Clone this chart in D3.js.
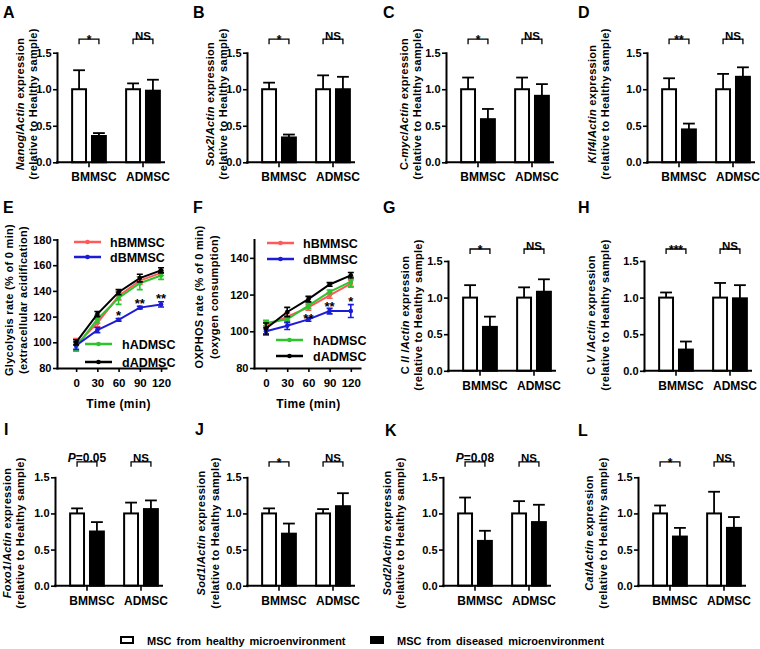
<!DOCTYPE html>
<html>
<head>
<meta charset="utf-8">
<script src="https://cdn.jsdelivr.net/npm/d3@7"></script>
<style>
  body { margin: 0; background: #fff; }
  svg { display: block; font-family: "Liberation Sans", Arial, sans-serif; font-weight: bold; }
</style>
</head>
<body>
<svg id="fig" width="760" height="649"></svg>
<script>
const groups = ['BMMSC', 'ADMSC'];
const conditions = ['healthy', 'diseased'];
const barTicks = [0, 0.5, 1.0, 1.5];
const relLine = '(relative to Healthy sample)';

// order: BMMSC healthy, BMMSC diseased, ADMSC healthy, ADMSC diseased
const nanogMean = [1.0, 0.36, 1.0, 0.98];
const nanogErr = [0.26, 0.04, 0.08, 0.15];
const sox2Mean = [1.0, 0.34, 1.0, 1.0];
const sox2Err = [0.09, 0.04, 0.19, 0.17];
const cmycMean = [1.0, 0.59, 1.0, 0.91];
const cmycErr = [0.16, 0.14, 0.16, 0.16];
const klf4Mean = [1.0, 0.45, 1.0, 1.17];
const klf4Err = [0.15, 0.08, 0.21, 0.13];
const c2Mean = [1.0, 0.6, 1.0, 1.08];
const c2Err = [0.17, 0.14, 0.14, 0.17];
const c5Mean = [1.0, 0.29, 1.0, 0.99];
const c5Err = [0.07, 0.11, 0.2, 0.18];
const foxo1Mean = [1.0, 0.75, 1.0, 1.06];
const foxo1Err = [0.07, 0.13, 0.15, 0.12];
const sod1Mean = [1.0, 0.72, 1.0, 1.1];
const sod1Err = [0.07, 0.14, 0.06, 0.18];
const sod2Mean = [1.0, 0.62, 1.0, 0.88];
const sod2Err = [0.22, 0.14, 0.17, 0.24];
const catMean = [1.0, 0.68, 1.0, 0.8];
const catErr = [0.11, 0.12, 0.3, 0.15];

// significance labels: [BMMSC, ADMSC]
const nanogSig = ['*', 'NS'];
const sox2Sig = ['*', 'NS'];
const cmycSig = ['*', 'NS'];
const klf4Sig = ['**', 'NS'];
const c2Sig = ['*', 'NS'];
const c5Sig = ['***', 'NS'];
const foxo1Sig = ['<i>P</i>=0.05', 'NS'];
const sod1Sig = ['*', 'NS'];
const sod2Sig = ['<i>P</i>=0.08', 'NS'];
const catSig = ['*', 'NS'];

// time course, series order hBMMSC, dBMMSC, hADMSC, dADMSC
const timePoints = [0, 30, 60, 90, 120];
const seriesNames = ['hBMMSC', 'dBMMSC', 'hADMSC', 'dADMSC'];
const seriesColors = ['#ff5a5a', '#1c1cd6', '#2ec42e', '#000000'];
const glycoMean = [
  [98, 115, 136, 148, 154],
  [97.5, 109.5, 117.5, 127, 129.5],
  [96.5, 118, 134.5, 146, 152],
  [100, 122, 139, 150, 156]
];
const glycoErr = [
  [5, 3, 3, 3, 2],
  [3, 2, 1, 1, 2],
  [3, 3, 5, 5, 3],
  [2, 2, 2, 3, 2]
];
const glycoTicks = [80, 100, 120, 140, 160, 180];
const glycoStars = [[60, 117, '*'], [90, 126.5, '**'], [120, 130.6, '**']];

const oxMean = [
  [103, 108, 113, 119.5, 126],
  [100, 103, 106.5, 111, 111],
  [104.5, 106.5, 114, 121.5, 127],
  [101.5, 110.5, 117.5, 125.5, 130.5]
];
const oxErr = [
  [2, 2, 1.5, 1.5, 2],
  [2, 2, 1, 1.5, 3.5],
  [1.5, 2, 1.5, 1, 2.5],
  [3, 2.5, 1.5, 1, 1.5]
];
const oxTicks = [80, 100, 120, 140];
const oxStars = [[60, 104.5, '**'], [90, 111, '**'], [120, 114, '*']];

const legendLabels = ['MSC from healthy microenvironment', 'MSC from diseased microenvironment'];

// ---------- layout ----------
const rows = [
  { top: 52.7, base: 162.3, sig: 13.5, yc: 104 },
  { top: 261, base: 370.8, sig: 12, yc: 315 },
  { top: 477.3, base: 585.7, sig: 15.5, yc: 533 }
];

const barPanels = [
  { id: 'A', lx: 3, ly: 18, ax: 57, row: 0, tx: [-36.5, -23.5], title: '<i>Nanog</i>/<i>Actin</i> expression', mean: nanogMean, err: nanogErr, sig: nanogSig },
  { id: 'B', lx: 193, ly: 18, ax: 247, row: 0, tx: [-36.5, -23.5], title: '<i>Sox2</i>/<i>Actin</i> expression', mean: sox2Mean, err: sox2Err, sig: sox2Sig },
  { id: 'C', lx: 383, ly: 18, ax: 446, row: 0, tx: [-41.5, -28.5], title: 'C-<i>myc</i>/<i>Actin</i> expression', mean: cmycMean, err: cmycErr, sig: cmycSig },
  { id: 'D', lx: 578, ly: 18, ax: 647, row: 0, tx: [-54, -41], title: '<i>Klf4</i>/<i>Actin</i> expression', mean: klf4Mean, err: klf4Err, sig: klf4Sig },
  { id: 'G', lx: 383, ly: 213, ax: 448, row: 1, tx: [-42, -29], title: 'C <i>II</i> /<i>Actin</i> expression', mean: c2Mean, err: c2Err, sig: c2Sig },
  { id: 'H', lx: 578, ly: 213, ax: 644, row: 1, tx: [-52, -38.5], title: 'C <i>V</i> /<i>Actin</i> expression', mean: c5Mean, err: c5Err, sig: c5Sig },
  { id: 'I', lx: 4, ly: 435, ax: 55, row: 2, tx: [-47.5, -34], title: '<i>Foxo1</i>/<i>Actin</i> expression', mean: foxo1Mean, err: foxo1Err, sig: foxo1Sig },
  { id: 'J', lx: 195, ly: 435, ax: 247, row: 2, tx: [-45, -31], title: '<i>Sod1</i>/<i>Actin</i> expression', mean: sod1Mean, err: sod1Err, sig: sod1Sig },
  { id: 'K', lx: 385, ly: 436, ax: 443, row: 2, tx: [-55.5, -42], title: '<i>Sod2</i>/<i>Actin</i> expression', mean: sod2Mean, err: sod2Err, sig: sod2Sig },
  { id: 'L', lx: 578, ly: 436, ax: 638, row: 2, tx: [-48, -34.5], title: '<i>Cat</i>/<i>Actin</i> expression', mean: catMean, err: catErr, sig: catSig }
];

const linePanels = [
  {
    id: 'E', lx: 3, ly: 213, ax: 57, len: 109, xDomain: [-27, 127], yDomain: [80, 180], ticks: glycoTicks,
    tx: [-47.5, -33], yc: 300, titles: ['Glycolysis rate (% of 0 min)', '(extracellular acidification)'],
    mean: glycoMean, err: glycoErr, stars: glycoStars,
    legend: [[17, 53, 242], [17, 53, 257], [28, 65, 344], [28, 65, 362]]
  },
  {
    id: 'F', lx: 193, ly: 213, ax: 254, len: 106, xDomain: [-17, 133], yDomain: [80, 150], ticks: oxTicks,
    tx: [-54.5, -39.5], yc: 297, titles: ['OXPHOS rate (% of 0 min)', '(oxygen consumption)'],
    mean: oxMean, err: oxErr, stars: oxStars,
    legend: [[13, 49, 243], [13, 49, 259], [22, 59, 340], [22, 59, 356]]
  }
];

const svg = d3.select('#fig');

// text with <i>..</i> segments
function richText(sel, str) {
  str.split(/(<i>.*?<\/i>)/).filter(s => s).forEach(s => {
    const it = s.startsWith('<i>');
    sel.append('tspan')
      .style('font-style', it ? 'italic' : null)
      .text(it ? s.slice(3, -4) : s);
  });
}

// rotated two-line axis title; x is the centre of each text column
function yTitle(lines, xs, yc) {
  xs.forEach((x, i) => {
    const t = svg.append('text')
      .attr('transform', `translate(${x + 3.3},${yc}) rotate(-90)`)
      .attr('text-anchor', 'middle')
      .style('font-size', '11px')
      .style('letter-spacing', '0.3px');
    richText(t, lines[i]);
  });
}

function styleAxis(g) {
  g.attr('font-size', null).attr('font-family', null);
  g.select('.domain').attr('stroke-width', 2).attr('stroke-linecap', 'square');
  g.selectAll('.tick line').attr('stroke-width', 1.6);
  g.selectAll('.tick text').style('font-size', '11px').attr('fill', '#000');
}

function panelLetter(p) {
  svg.append('text').attr('x', p.lx).attr('y', p.ly).style('font-size', '16px').text(p.id);
}

function barPanel(p) {
  const r = rows[p.row];
  const y = d3.scaleLinear().domain([0, 1.5]).range([r.base, r.top]);
  const x0 = d3.scaleBand().domain(groups).range([p.ax + 5, p.ax + 113]);
  const x1 = d3.scaleBand().domain(conditions).range([0, x0.bandwidth()])
    .paddingInner(0.3).paddingOuter(0.51);
  const data = p.mean.map((m, i) => ({
    group: groups[i >> 1], cond: conditions[i % 2], mean: m, err: p.err[i]
  }));
  const cx = d => x0(d.group) + x1(d.cond) + x1.bandwidth() / 2;

  panelLetter(p);
  yTitle([p.title, relLine], p.tx.map(t => p.ax + t), r.yc);

  const g = svg.append('g');

  // error bars (upper only)
  const capW = x1.bandwidth() * 0.85;
  const eb = g.append('g').attr('stroke', '#000').attr('stroke-width', 1.8);
  eb.selectAll('line.v').data(data).join('line').attr('class', 'v')
    .attr('x1', cx).attr('x2', cx)
    .attr('y1', d => y(d.mean)).attr('y2', d => y(d.mean + d.err));
  eb.selectAll('line.c').data(data).join('line').attr('class', 'c')
    .attr('x1', d => cx(d) - capW / 2).attr('x2', d => cx(d) + capW / 2)
    .attr('y1', d => y(d.mean + d.err)).attr('y2', d => y(d.mean + d.err));

  g.selectAll('rect').data(data).join('rect')
    .attr('x', d => x0(d.group) + x1(d.cond))
    .attr('y', d => y(d.mean))
    .attr('width', x1.bandwidth())
    .attr('height', d => y(0) - y(d.mean))
    .attr('fill', d => d.cond === 'healthy' ? '#fff' : '#000')
    .attr('stroke', '#000')
    .attr('stroke-width', 2);

  g.append('g').attr('transform', `translate(${p.ax},0)`)
    .call(d3.axisLeft(y).tickValues(barTicks).tickFormat(d3.format('.1f'))
      .tickSize(4).tickSizeOuter(0).tickPadding(1.5))
    .call(styleAxis);

  const xa = g.append('g').attr('transform', `translate(0,${r.base})`)
    .call(d3.axisBottom(x0).tickSize(5).tickSizeOuter(0).tickPadding(5.5))
    .call(styleAxis);
  xa.select('.domain').attr('d', `M${p.ax},0H${p.ax + 107}`);
  xa.selectAll('.tick text').attr('dx', 5).style('font-size', '12px');

  // significance brackets
  const yb = r.top - r.sig;
  groups.forEach((grp, i) => {
    const xa1 = cx(data[i * 2]);
    const xb1 = cx(data[i * 2 + 1]);
    g.append('path')
      .attr('d', `M${xa1},${yb + 5}V${yb}H${xb1}V${yb + 5}`)
      .attr('fill', 'none').attr('stroke', '#000').attr('stroke-width', 1.3);
    const isStar = /^\*+$/.test(p.sig[i]);
    const t = g.append('text')
      .attr('x', (xa1 + xb1) / 2)
      .attr('y', isStar ? yb + 5 : yb + 0.5)
      .attr('text-anchor', 'middle')
      .style('font-size', isStar ? '12px' : (p.sig[i] === 'NS' ? '11.5px' : '12px'));
    richText(t, p.sig[i]);
  });
}

function linePanel(p) {
  const x = d3.scaleLinear().domain(p.xDomain).range([p.ax, p.ax + p.len]);
  const y = d3.scaleLinear().domain(p.yDomain).range([368, 239.5]);

  panelLetter(p);
  yTitle(p.titles, p.tx.map(t => p.ax + t), p.yc);

  const g = svg.append('g');

  g.append('g').attr('transform', `translate(${p.ax},0)`)
    .call(d3.axisLeft(y).tickValues(p.ticks).tickSize(4).tickSizeOuter(0).tickPadding(1.5))
    .call(styleAxis);
  g.append('g').attr('transform', `translate(0,${y(p.yDomain[0])})`)
    .call(d3.axisBottom(x).tickValues(timePoints).tickSize(4).tickSizeOuter(0).tickPadding(7))
    .call(styleAxis)
    .call(a => a.selectAll('.tick text').style('font-size', '11.5px'));

  svg.append('text')
    .attr('x', (x(timePoints[0]) + x(timePoints[timePoints.length - 1])) / 2)
    .attr('y', 408)
    .attr('text-anchor', 'middle')
    .style('font-size', '12px')
    .style('letter-spacing', '0.4px')
    .text('Time (min)');

  const line = d3.line().x((d, i) => x(timePoints[i])).y(d => y(d));
  const order = [0, 2, 1, 3];
  order.forEach(s => {
    const col = seriesColors[s];
    const sg = g.append('g');
    sg.append('path').attr('d', line(p.mean[s]))
      .attr('fill', 'none').attr('stroke', col).attr('stroke-width', 2);
    const pts = p.mean[s].map((v, i) => ({ t: timePoints[i], v, e: p.err[s][i] }));
    sg.selectAll('path.err').data(pts).join('path').attr('class', 'err')
      .attr('d', d => `M${x(d.t)},${y(d.v - d.e)}V${y(d.v + d.e)}` +
        `M${x(d.t) - 3},${y(d.v - d.e)}h6M${x(d.t) - 3},${y(d.v + d.e)}h6`)
      .attr('fill', 'none').attr('stroke', col).attr('stroke-width', 1.6);
    sg.selectAll('circle').data(pts).join('circle')
      .attr('cx', d => x(d.t)).attr('cy', d => y(d.v)).attr('r', 2.3)
      .attr('fill', col);
  });

  g.selectAll('text.star').data(p.stars).join('text').attr('class', 'star')
    .attr('x', d => x(d[0])).attr('y', d => y(d[1]))
    .attr('text-anchor', 'middle')
    .style('font-size', '13px')
    .text(d => d[2]);

  // legend
  p.legend.forEach((lg, i) => {
    const [x1r, txr, ly] = lg;
    const col = seriesColors[i];
    svg.append('line')
      .attr('x1', p.ax + x1r).attr('x2', p.ax + x1r + 27)
      .attr('y1', ly).attr('y2', ly)
      .attr('stroke', col).attr('stroke-width', 2.5);
    svg.append('circle')
      .attr('cx', p.ax + x1r + 13.5).attr('cy', ly).attr('r', 2.3).attr('fill', col);
    svg.append('text')
      .attr('x', p.ax + txr).attr('y', ly + 4.5)
      .style('font-size', '12.5px')
      .text(seriesNames[i]);
  });
}

barPanels.forEach(barPanel);
linePanels.forEach(linePanel);

// bottom legend
const legendX = [[121, 147], [371, 397]];
legendLabels.forEach((lab, i) => {
  svg.append('rect')
    .attr('x', legendX[i][0]).attr('y', 637)
    .attr('width', 12).attr('height', 6)
    .attr('fill', i === 0 ? '#fff' : '#000')
    .attr('stroke', '#000').attr('stroke-width', 2);
  svg.append('text')
    .attr('x', legendX[i][1]).attr('y', 645)
    .style('font-size', '11px')
    .style('word-spacing', '2px')
    .text(lab);
});
</script>
</body>
</html>
